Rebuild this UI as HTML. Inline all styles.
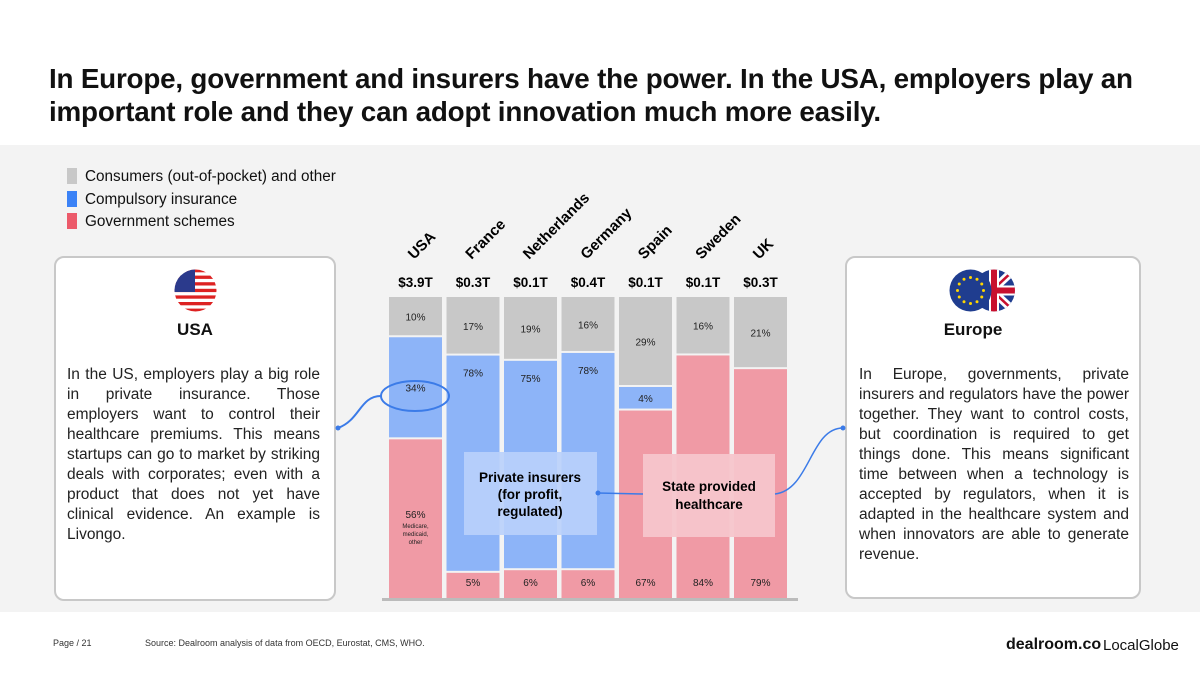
<!DOCTYPE html>
<html><head><meta charset="utf-8">
<style>
*{margin:0;padding:0;box-sizing:border-box}
body{width:1200px;height:675px;background:#fff;font-family:"Liberation Sans","DejaVu Sans",sans-serif;position:relative;overflow:hidden;color:#111}
#band{position:absolute;left:0;top:145px;width:1200px;height:467px;background:#f3f3f3}
h1{position:absolute;left:49px;top:62px;font-size:27.8px;line-height:33px;font-weight:bold;width:1140px;letter-spacing:-0.2px}
.legend{position:absolute;left:67px;font-size:15.3px}
.legend span{display:inline-block;width:10px;height:16px;margin-right:8px;vertical-align:-3px}
.panel{position:absolute;background:#fff;border:2px solid #c8c8c8;border-radius:10px}
.ptext{position:absolute;font-size:15.5px;line-height:20px;text-align:justify;color:#222}
.ptitle{position:absolute;font-size:17px;font-weight:bold;text-align:center}
.foot{position:absolute;font-size:9px;color:#333}
</style></head><body>
<div id="band"></div>
<h1>In Europe, government and insurers have the power. In the USA, employers play an important role and they can adopt innovation much more easily.</h1>
<div class="legend" style="top:168px"><span style="background:#c8c8c8"></span>Consumers (out-of-pocket) and other</div>
<div class="legend" style="top:191px"><span style="background:#3b82f6"></span>Compulsory insurance</div>
<div class="legend" style="top:213px"><span style="background:#ec5a6a"></span>Government schemes</div>

<div class="panel" style="left:54px;top:256px;width:282px;height:345px"></div>
<svg style="position:absolute;left:174px;top:269px" width="43" height="43">
<defs><clipPath id="c1"><circle cx="21.5" cy="21.5" r="21"/></clipPath></defs>
<g clip-path="url(#c1)"><rect width="43" height="43" fill="#fff"/>
<g fill="#d22"><rect y="0" width="43" height="3.3"/><rect y="6.6" width="43" height="3.3"/><rect y="13.2" width="43" height="3.3"/><rect y="19.8" width="43" height="3.3"/><rect y="26.4" width="43" height="3.3"/><rect y="33" width="43" height="3.3"/><rect y="39.6" width="43" height="3.4"/></g>
<rect width="21" height="23" fill="#2b3a8c"/></g></svg>
<div class="ptitle" style="left:140px;top:320px;width:110px">USA</div>
<div class="ptext" style="left:67px;top:365px;width:253px">In the US, employers play a big role in private insurance. Those employers want to control their healthcare premiums. This means startups can go to market by striking deals with corporates; even with a product that does not yet have clinical evidence. An example is Livongo.</div>

<div class="panel" style="left:845px;top:256px;width:296px;height:343px"></div>
<svg style="position:absolute;left:949px;top:269px" width="66" height="43">
<defs><clipPath id="c2"><circle cx="45" cy="21.5" r="21"/></clipPath></defs>
<g clip-path="url(#c2)"><rect x="20" width="46" height="43" fill="#1f3d8f"/>
<path d="M20 0L66 43M66 0L20 43" stroke="#fff" stroke-width="8"/><path d="M20 0L66 43M66 0L20 43" stroke="#c8102e" stroke-width="2.5"/>
<rect x="40" width="10" height="43" fill="#fff"/><rect x="20" y="16.5" width="46" height="10" fill="#fff"/>
<rect x="42" width="6" height="43" fill="#c8102e"/><rect x="20" y="18.5" width="46" height="6" fill="#c8102e"/></g>
<circle cx="21.5" cy="21.5" r="21" fill="#1f3d8f"/>
<g fill="#ffd500" id="stars"></g></svg>
<div class="ptitle" style="left:918px;top:320px;width:110px">Europe</div>
<div class="ptext" style="left:859px;top:365px;width:270px">In Europe, governments, private insurers and regulators have the power together. They want to control costs, but coordination is required to get things done. This means significant time between when a technology is accepted by regulators, when it is adapted in the healthcare system and when innovators are able to generate revenue.</div>

<svg id="chart" style="position:absolute;left:0;top:0" width="1200" height="675"></svg>

<div class="foot" style="left:53px;top:638px">Page / 21</div>
<div class="foot" style="left:145px;top:638px">Source: Dealroom analysis of data from OECD, Eurostat, CMS, WHO.</div>
<div style="position:absolute;left:1006px;top:636px;font-size:16px;font-weight:bold">dealroom.co</div>
<div style="position:absolute;left:1103px;top:637px;font-size:15px">LocalGlobe</div>

<script>
const countries=["USA","France","Netherlands","Germany","Spain","Sweden","UK"];
const totals=["$3.9T","$0.3T","$0.1T","$0.4T","$0.1T","$0.1T","$0.3T"];
const consumers=[10,17,19,16,29,16,21];
const compulsory=[34,78,75,78,4,0,0];
const government=[56,5,6,6,67,84,79];
const NS="http://www.w3.org/2000/svg";
const svg=document.getElementById('chart');
const x0=389,step=57.5,bw=53,plotTop=297,plotBot=598,H=plotBot-plotTop,pad=5;
const xPos=i=>x0+i*step;
function mk(t,a,p){const e=document.createElementNS(NS,t);for(const k in a)e.setAttribute(k,a[k]);(p||svg).appendChild(e);return e;}
const st=document.getElementById('stars');
for(let k=0;k<12;k++){const a=k*Math.PI/6;const s=mk('circle',{cx:21.5+13*Math.cos(a),cy:21.5+13*Math.sin(a),r:1.5},st);

}
const cols=["#c8c8c8","#8db4f8","#f09aa5"];
const series=[consumers,compulsory,government];
const names=["consumers","compulsory","government"];
countries.forEach((c,i)=>{
 const x=xPos(i);let y=plotTop;
 let tot=0;series.forEach(s=>{if(s[i])tot+=s[i]+pad;});
 const yScale=v=>(v+pad)/tot*H;
 series.forEach((s,j)=>{
  const v=s[i];if(!v)return;
  const h=yScale(v);
  const r=mk('rect',{x:x,y:y+(y>plotTop?1:0),width:bw,height:h-(y>plotTop?1:0)-(j<2?1:0),fill:cols[j]});
  
  
  let ly;
  if(j==0) ly=y+h/2+4;
  else if(j==1) ly=(h<120)?y+h/2+4:y+22;
  else ly=(i==0)?y+h/2:plotBot-12;
  const t=mk('text',{x:x+bw/2,y:ly,'text-anchor':'middle','font-size':10,fill:'#222'});t.textContent=v+'%';
  
  
  if(i==0&&j==2){
   ['Medicare,','medicaid,','other'].forEach((n,k)=>{const tn=mk('text',{x:x+bw/2,y:ly+10+k*8,'text-anchor':'middle','font-size':6,fill:'#222'});tn.textContent=n;
   
   });
  }
  y+=h;
 });
 const tt=mk('text',{x:x+bw/2,y:287,'text-anchor':'middle','font-size':13.5,'font-weight':'bold'});tt.textContent=totals[i];
 
 
 const cl=mk('text',{x:0,y:0,'font-size':15,'font-weight':'bold',transform:`translate(${x+25},${260}) rotate(-45)`});cl.textContent=c;
 
 
});
const base=mk('rect',{x:382,y:598,width:416,height:3,fill:'#bbb'});


const el=mk('ellipse',{cx:415,cy:396,rx:34,ry:15,fill:'none',stroke:'#3b7be8','stroke-width':2});


const c1=mk('path',{d:'M338 428 C360 420,360 396,381 396',fill:'none',stroke:'#3b7be8','stroke-width':2});


mk('circle',{cx:338,cy:428,r:2.5,fill:'#3b7be8'});
const b1=mk('rect',{x:464,y:452,width:133,height:83,fill:'#b9d0fb',opacity:0.9});


[['Private insurers',482],['(for profit,',499],['regulated)',516]].forEach(([s,yy])=>{const t=mk('text',{x:530,y:yy,'text-anchor':'middle','font-size':13.5,'font-weight':'bold'});t.textContent=s;

});
const b2=mk('rect',{x:643,y:454,width:132,height:83,fill:'#f5c5cb',opacity:0.95});


[['State provided',491],['healthcare',509]].forEach(([s,yy])=>{const t=mk('text',{x:709,y:yy,'text-anchor':'middle','font-size':13.5,'font-weight':'bold'});t.textContent=s;

});
const c2=mk('path',{d:'M598 493 L643 494',fill:'none',stroke:'#3b7be8','stroke-width':1.5});


mk('circle',{cx:598,cy:493,r:2.5,fill:'#3b7be8'});
const c3=mk('path',{d:'M775 494 C810 490,810 428,843 428',fill:'none',stroke:'#3b7be8','stroke-width':1.5});


mk('circle',{cx:843,cy:428,r:2.5,fill:'#3b7be8'});
</script>
</body></html>
